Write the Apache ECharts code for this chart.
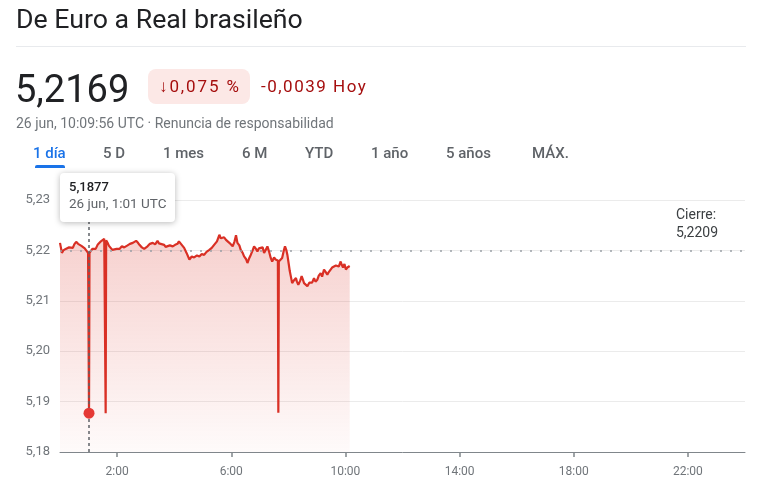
<!DOCTYPE html>
<html><head><meta charset="utf-8">
<script src="https://cdn.jsdelivr.net/npm/echarts@6/dist/echarts.min.js"></script>
<style>
body{margin:0;width:762px;height:496px;background:#fff;font-family:Roboto,Arial,sans-serif;overflow:hidden;position:relative}
#chart{position:absolute;left:0;top:0;width:762px;height:496px}
.t{position:absolute;white-space:nowrap;line-height:1}
.tab{position:absolute;top:146px;font-size:15px;line-height:1;color:#5f6368;font-weight:500;white-space:nowrap}
</style></head><body>
<div id="chart"></div>
<div class="t" style="left:16px;top:6px;font-size:26.7px;color:#202124">De Euro a Real brasileño</div>
<div style="position:absolute;left:16px;top:46px;width:730px;height:1px;background:#e8eaed"></div>
<div class="t" style="left:15px;top:70px;font-size:38px;color:#202124">5,2169</div>
<div style="position:absolute;left:148px;top:69px;width:102px;height:35px;border-radius:8px;background:#fce8e6"></div>
<div class="t" style="left:159px;top:78px;font-size:17px;letter-spacing:1.9px;color:#a50e0e">↓0,075 %</div>
<div class="t" style="left:261px;top:78px;font-size:17px;letter-spacing:1.5px;color:#a50e0e">-0,0039 Hoy</div>
<div class="t" style="left:16px;top:116px;font-size:14px;color:#70757a">26 jun, 10:09:56 UTC · Renuncia de responsabilidad</div>
<div class="tab" style="left:33px;color:#1a73e8">1 día</div>
<div style="position:absolute;left:35px;top:165px;width:30px;height:3px;border-radius:2px 2px 0 0;background:#1a73e8"></div>
<div class="tab" style="left:103px">5 D</div>
<div class="tab" style="left:163px">1 mes</div>
<div class="tab" style="left:242px">6 M</div>
<div class="tab" style="left:305px">YTD</div>
<div class="tab" style="left:371px">1 año</div>
<div class="tab" style="left:446px">5 años</div>
<div class="tab" style="left:532px">MÁX.</div>
<script>
// ---- data ----
const times = [
 '0:00','0:02','0:04','0:07','0:09','0:12','0:16','0:19','0:23','0:27','0:30','0:34','0:38','0:41','0:45','0:48','0:52','0:55','0:59',
 '1:01',
 '1:02','1:05','1:08','1:12','1:15','1:19','1:22','1:26','1:29','1:33','1:35',
 '1:36',
 '1:37','1:40','1:43','1:47','1:50','1:54','1:59','2:05','2:10','2:15','2:22','2:27','2:33','2:36','2:40','2:44','2:47','2:52','2:57',
 '3:04','3:09','3:15','3:20','3:25','3:28','3:32','3:39','3:42','3:46','3:51','3:57',
 '4:02','4:07','4:10','4:14','4:21','4:26','4:32','4:37','4:42','4:48','4:53','4:58',
 '5:03','5:08','5:14','5:19','5:24','5:30','5:35','5:38','5:41','5:45','5:49','5:52','5:56',
 '6:00','6:03','6:07','6:10','6:13','6:17','6:20','6:24','6:27','6:31','6:34','6:38','6:41','6:45','6:48','6:52','6:55','6:58',
 '7:02','7:06','7:09','7:13','7:16','7:20','7:23','7:26','7:30','7:33','7:38',
 '7:39',
 '7:40','7:44','7:47','7:50','7:53','7:56','7:58',
 '8:01','8:03','8:06','8:08','8:12','8:16','8:18','8:21','8:25','8:28','8:31','8:33','8:37','8:40','8:44','8:47','8:50','8:54','8:57',
 '9:01','9:04','9:08','9:11','9:15','9:18','9:22','9:25','9:29','9:32','9:36','9:40','9:43','9:46','9:50','9:52','9:55','9:58',
 '10:01','10:04','10:06','10:09'
];
const rates = [
 5.2215,5.2205,5.2195,5.2200,5.2197,5.2203,5.2201,5.2206,5.2208,5.2205,5.2212,5.2217,5.2213,5.2215,5.2209,5.2210,5.2204,5.2205,5.2195,
 5.1877,
 5.2195,5.2198,5.2203,5.2206,5.2203,5.2211,5.2214,5.2218,5.2215,5.2223,5.2222,
 5.1877,
 5.2220,5.2215,5.2209,5.2206,5.2201,5.2199,5.2203,5.2203,5.2208,5.2206,5.2210,5.2213,5.2215,5.2212,5.2219,5.2215,5.2211,5.2206,5.2203,
 5.2208,5.2213,5.2215,5.2212,5.2219,5.2214,5.2217,5.2211,5.2207,5.2206,5.2210,5.2208,
 5.2211,5.2213,5.2218,5.2215,5.2205,5.2195,5.2182,5.2188,5.2186,5.2190,5.2188,5.2193,
 5.2191,5.2197,5.2201,5.2205,5.2211,5.2218,5.2231,5.2224,5.2223,5.2226,5.2221,5.2218,5.2215,
 5.2212,5.2208,5.2218,5.2230,5.2215,5.2210,5.2201,5.2195,5.2188,5.2183,5.2175,5.2185,5.2191,5.2200,5.2208,5.2203,5.2198,5.2204,
 5.2201,5.2206,5.2195,5.2202,5.2208,5.2196,5.2185,5.2178,5.2186,5.2182,5.2180,
 5.1878,
 5.2178,5.2180,5.2185,5.2198,5.2208,5.2200,5.2191,
 5.2172,5.2159,5.2145,5.2135,5.2141,5.2145,5.2138,5.2132,5.2140,5.2149,5.2141,5.2135,5.2138,5.2129,5.2136,5.2139,5.2136,5.2145,5.2138,
 5.2142,5.2150,5.2155,5.2148,5.2162,5.2158,5.2152,5.2157,5.2159,5.2166,5.2165,5.2170,5.2172,5.2168,5.2178,5.2172,5.2166,5.2173,
 5.2162,5.2166,5.2168,5.2169
];
const closeValue = 5.2209;
const hoverTime = '1:01';
const dateLabel = '26 jun';
const xTickHours = [2, 6, 10, 14, 18, 22];
const yMin = 5.18, yMax = 5.23, yStep = 0.01;

// ---- helpers ----
const toMin = s => { const p = s.split(':'); return (+p[0]) * 60 + (+p[1]); };
const fmt = (v, d) => v.toFixed(d).replace('.', ',');
const data = times.map((t, i) => [toMin(t), rates[i]]);
const hi = times.indexOf(hoverTime);
const hoverPt = data[hi];

const chart = echarts.init(document.getElementById('chart'));
const txt = {fontFamily: 'Roboto, Arial, sans-serif'};
chart.setOption({
  animation: false,
  grid: {left: 60, right: 17, top: 200, bottom: 44},
  xAxis: {
    type: 'value', min: 0, max: 1440,
    axisLine: {lineStyle: {color: '#80868b', width: 1}},
    axisTick: {show: true, length: 5, customValues: xTickHours.map(h => h * 60), lineStyle: {color: '#80868b', width: 1.5}},
    axisLabel: {customValues: xTickHours.map(h => h * 60), formatter: v => (v / 60) + ':00', color: '#70757a', fontSize: 12, margin: 14, ...txt},
    splitLine: {show: false}
  },
  yAxis: {
    type: 'value', min: yMin, max: yMax, interval: yStep,
    axisLine: {show: false}, axisTick: {show: false},
    axisLabel: {formatter: v => fmt(v, 2), color: '#70757a', fontSize: 13, margin: 10, ...txt},
    splitLine: {lineStyle: {color: '#ebebeb', width: 1}}
  },
  series: [{
    type: 'line', data: data, showSymbol: false, symbol: 'none',
    lineStyle: {color: '#d93025', width: 2.2},
    areaStyle: {color: new echarts.graphic.LinearGradient(0, 0, 0, 1, [
      {offset: 0, color: 'rgba(217,48,37,0.32)'},
      {offset: 1, color: 'rgba(217,48,37,0.03)'}
    ])},
    markLine: {
      silent: true, symbol: 'none', label: {show: false},
      data: [
        {yAxis: closeValue, lineStyle: {color: '#9aa0a6', type: [2, 8], width: 1.5}},
        {xAxis: hoverPt[0], lineStyle: {color: '#5f6368', type: [3, 3], width: 1.5}}
      ]
    },
    markPoint: {
      silent: true, symbol: 'circle', symbolSize: 11,
      itemStyle: {color: '#e53935'}, label: {show: false},
      data: [{coord: hoverPt}]
    }
  }],
  graphic: [
    {type: 'rect', z: 100, shape: {x: 60, y: 173, width: 115, height: 49, r: 4},
     style: {fill: '#fff', shadowBlur: 6, shadowColor: 'rgba(0,0,0,0.28)', shadowOffsetY: 1}},
    {type: 'text', z: 101, x: 69, y: 181, style: {text: fmt(hoverPt[1], 4), fontSize: 13, fontWeight: 500, fill: '#202124', ...txt}},
    {type: 'text', z: 101, x: 69, y: 198, style: {text: dateLabel + ', ' + hoverTime + ' UTC', fontSize: 13.5, fill: '#5f6368', ...txt}},
    {type: 'text', z: 101, x: 676, y: 206, style: {text: 'Cierre:\n' + fmt(closeValue, 4), fontSize: 14, lineHeight: 18, fill: '#3c4043', ...txt}}
  ]
});
</script>
</body></html>
